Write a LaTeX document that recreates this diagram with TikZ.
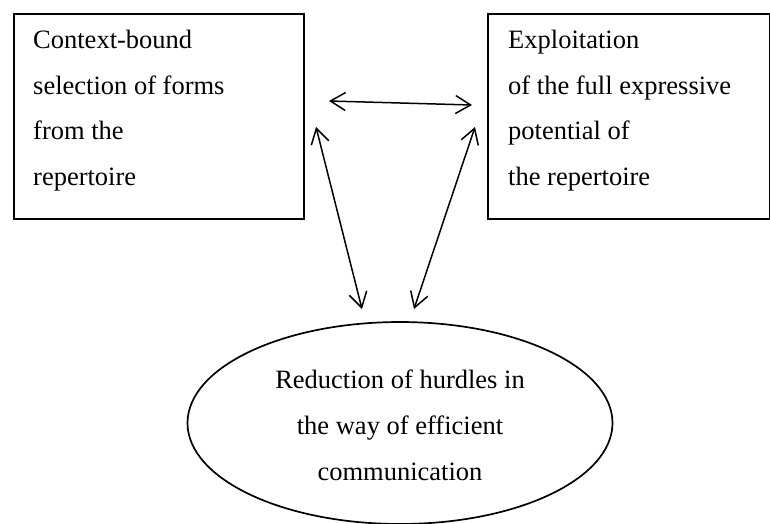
\documentclass[tikz,border=0pt]{standalone}
\usepackage{fontspec}
\setmainfont{Liberation Serif}
\usetikzlibrary{arrows.meta,shapes.geometric}
\begin{document}
\begin{tikzpicture}[x=1pt,y=-1pt,
  boxstyle/.style={draw,line width=1.9pt,inner sep=0pt,anchor=north west},
  txt/.style={inner sep=0pt,align=left,font=\fontsize{26.5}{45.4}\selectfont},
  ctxt/.style={inner sep=0pt,align=center,font=\fontsize{26.5}{46}\selectfont},
  link/.style={line width=1.5pt,{Straight Barb[length=15pt,width=18pt]}-{Straight Barb[length=15pt,width=18pt]}}]
\useasboundingbox (0,0) rectangle (770,523);
\node[boxstyle,minimum width=290pt,minimum height=205pt] (lbox) at (13,13) {};
\node[boxstyle,minimum width=282pt,minimum height=205pt] (rbox) at (487,13) {};
\node[draw,ellipse,line width=1.7pt,inner sep=0pt,minimum width=425pt,minimum height=202pt] (ell) at (400,423) {};
\node[txt,anchor=base west] (ltext) at (33,185) {Context-bound\\selection of forms\\from the\\repertoire};
\node[txt,anchor=base west] (rtext) at (508,185) {Exploitation\\of the full expressive\\potential of\\the repertoire};
\node[ctxt,anchor=base] (etext) at (400,480) {Reduction of hurdles in\\the way of efficient\\communication};
\coordinate (h1) at (329,101);
\coordinate (h2) at (472,105);
\coordinate (a1) at (316,127);
\coordinate (a2) at (362,309);
\coordinate (b1) at (475,127);
\coordinate (b2) at (414,309);
\draw[link] (h1) -- (h2);
\draw[link] (a1) -- (a2);
\draw[link] (b1) -- (b2);
\end{tikzpicture}
\end{document}
